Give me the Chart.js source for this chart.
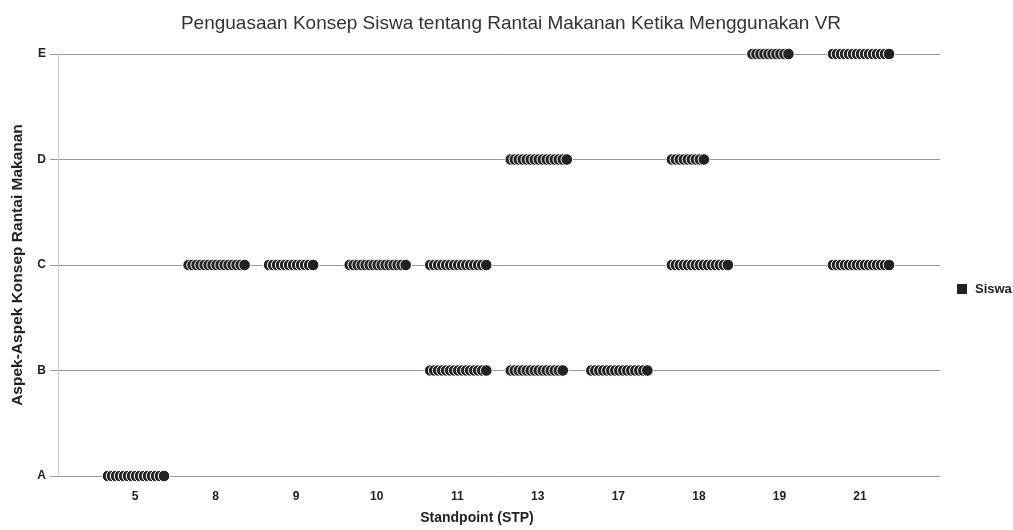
<!DOCTYPE html>
<html>
<head>
<meta charset="utf-8">
<script src="https://cdn.jsdelivr.net/npm/chart.js@4"></script>
<style>
html,body{margin:0;padding:0;background:#fff;}
#wrap{width:1013px;height:530px;position:relative;}
</style>
</head>
<body>
<div id="wrap"><canvas id="c" width="1013" height="530"></canvas></div>
<script>
// Tick labels
const stpLabels = ['5','8','9','10','11','13','17','18','19','21'];
const aspectLabels = ['A','B','C','D','E'];
// Groups of students: STP value, concept aspect, number of students
const groupStp    = ['5','8','9','10','11','11','13','13','17','18','18','19','21','21'];
const groupAspect = ['A','C','C','C','C','B','D','B','B','D','C','E','E','C'];
const groupCount  = [15, 15, 12, 15, 15, 15, 15, 14, 15, 9, 15, 10, 15, 15];
const seriesName = 'Siswa';
const chartTitle = 'Penguasaan Konsep Siswa tentang Rantai Makanan Ketika Menggunakan VR';
const xTitle = 'Standpoint (STP)';

const FONT = '"Liberation Sans", Arial, sans-serif';
const UNIT_PX = 80.56;      // px per category step (layout)
const START_PX = -27;       // first dot offset from tick (layout)
const STEP_PX = 4;          // dot spacing (layout)

const points = [];
groupStp.forEach((s, g) => {
  const xi = stpLabels.indexOf(s) + 1;
  const yi = aspectLabels.indexOf(groupAspect[g]);
  for (let i = 0; i < groupCount[g]; i++) {
    points.push({x: xi + (START_PX + STEP_PX * i) / UNIT_PX, y: yi});
  }
});

const extrasPlugin = {
  id: 'extras',
  afterDraw(chart) {
    const ctx = chart.ctx;
    ctx.save();
    // chart title
    ctx.fillStyle = '#333';
    ctx.font = '19px ' + FONT;
    ctx.textBaseline = 'middle';
    ctx.textAlign = 'center';
    ctx.fillText(chartTitle, 511, 24);
    // legend
    ctx.fillStyle = '#222';
    ctx.fillRect(957, 284, 10, 10);
    ctx.font = 'bold 13px ' + FONT;
    ctx.textAlign = 'left';
    ctx.fillText(seriesName, 975, 289.5);
    // x axis title
    ctx.font = 'bold 14px ' + FONT;
    ctx.textAlign = 'center';
    ctx.fillText(xTitle, 477, 518);
    ctx.restore();
  }
};

new Chart(document.getElementById('c'), {
  type: 'scatter',
  data: {
    datasets: [{
      label: seriesName,
      data: points,
      backgroundColor: '#222',
      borderColor: '#fff',
      borderWidth: 1,
      pointRadius: 5.8,
      pointHoverRadius: 5.8,
      clip: false
    }]
  },
  options: {
    responsive: false,
    animation: false,
    layout: {padding: {top: 54, left: 0, right: 73, bottom: 0}},
    plugins: {
      legend: {display: false},
      tooltip: {enabled: false},
      title: {display: false}
    },
    scales: {
      x: {
        type: 'linear',
        min: 0.044,
        max: 10.993,
        afterFit(scale) { scale.height = 54; },
        afterBuildTicks(scale) { scale.ticks = stpLabels.map((_, i) => ({value: i + 1})); },
        grid: {display: false, drawTicks: false},
        border: {display: false},
        ticks: {
          callback: (v) => stpLabels[Math.round(v) - 1] || '',
          color: '#222',
          font: {family: FONT, size: 12, weight: 'bold'},
          padding: 13,
          maxRotation: 0,
          autoSkip: false
        },
        title: {display: false}
      },
      y: {
        type: 'linear',
        min: 0,
        max: 4,
        afterFit(scale) { scale.width = 58; },
        afterBuildTicks(scale) { scale.ticks = aspectLabels.map((_, i) => ({value: i})); },
        grid: {color: '#999', lineWidth: 1, tickLength: 8, drawTicks: true},
        border: {display: true, color: '#ccc'},
        ticks: {
          callback: (v) => aspectLabels[Math.round(v)] || '',
          color: '#222',
          font: {family: FONT, size: 12, weight: 'bold'},
          padding: 4
        },
        title: {
          display: true,
          text: 'Aspek-Aspek Konsep Rantai Makanan',
          color: '#222',
          font: {family: FONT, size: 15.5, weight: 'bold'},
          padding: {top: 8, bottom: 0}
        }
      }
    }
  },
  plugins: [extrasPlugin]
});
</script>
</body>
</html>
